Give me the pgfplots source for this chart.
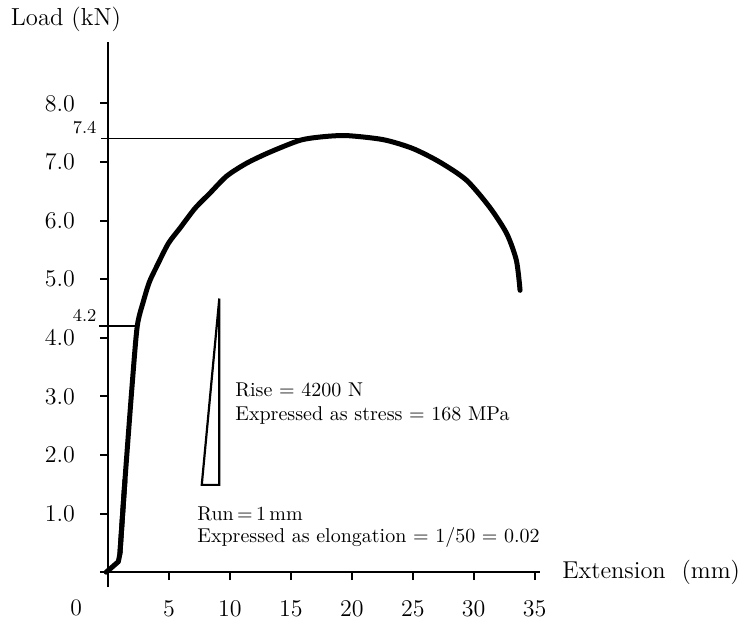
\documentclass[border=0pt]{standalone}
\usepackage{pgfplots}
\pgfplotsset{compat=1.18}
\begin{document}
\begin{tikzpicture}
\begin{axis}[
  x=6.095pt, y=29.3pt,
  axis lines=middle,
  axis line style={-, line width=1pt},
  xmin=-0.66, xmax=35.4, ymin=-0.26, ymax=9.04,
  xtick={5,10,...,35}, ytick={1,...,8},
  tick align=outside,
  major tick length=4pt,
  tick style={line width=1pt, black},
  yticklabel={\pgfmathprintnumber[fixed,fixed zerofill,precision=1]{\tick}},
  ticklabel style={font=\fontsize{11.8}{14}\selectfont},
  xticklabel style={anchor=north, yshift=-7pt},
  yticklabel style={anchor=east, xshift=-9pt},
  clip=false,
]
% curve: toe region (sharp corner)
\addplot[black, line width=2.5pt, line join=round, line cap=round] coordinates {
(-0.15,0.0) (0.3,0.08) (0.85,0.18) (0.98,0.32) (1.39,1.57)
};
% curve: elastic line and plastic arc (smooth)
\addplot[black, line width=2.5pt, line join=round, line cap=round, smooth, tension=0.45] coordinates {
(0.98,0.32) (1.39,1.57) (2.0,3.25) (2.4,4.2)
(2.9,4.62) (3.39,4.95) (4.0,5.22) (4.95,5.61) (5.9,5.87) (7.14,6.21) (8.37,6.47)
(9.74,6.76) (11.38,6.98) (13.3,7.17) (15.75,7.37) (17.6,7.43) (19.6,7.45)
(22.6,7.38) (25.0,7.23) (27.2,7.0) (29.4,6.69) (31.3,6.23) (32.7,5.78)
(33.5,5.32) (33.8,4.81)
};
% reference lines
\addplot[black, line width=0.85pt] coordinates {(-0.55,7.4) (16.0,7.4)};
\addplot[black, line width=0.85pt] coordinates {(-0.74,4.2) (2.42,4.2)};
% triangle
\addplot[black, line width=1.1pt, line join=miter] coordinates {(9.13,4.67) (9.13,1.49) (7.69,1.49) (9.13,4.67)};
% labels
\node[anchor=south east, inner sep=1pt, font=\fontsize{9}{10}\selectfont] at (axis cs:-0.75,7.43) {7.4};
\node[anchor=south east, inner sep=1pt, font=\fontsize{9}{10}\selectfont] at (axis cs:-0.75,4.23) {4.2};
\node[font=\fontsize{11.8}{14}\selectfont] at (axis cs:-2.62,-0.61) {0};
\node[font=\fontsize{12.3}{14}\selectfont] at (axis cs:-3.45,9.44) {Load (kN)};
\node[anchor=west, inner sep=0pt, font=\fontsize{12.2}{14}\selectfont] at (axis cs:37.24,0.0) {Extension\ \ (mm)};
\node[anchor=base west, inner sep=0pt, font=\fontsize{10}{12}\selectfont] at (axis cs:10.42,2.99) {Rise = 4200 N};
\node[anchor=base west, inner sep=0pt, font=\fontsize{10}{12}\selectfont] at (axis cs:10.42,2.59) {Expressed as stress = 168 MPa};
\node[anchor=base west, inner sep=0pt, font=\fontsize{10}{12}\selectfont] at (axis cs:7.3,0.89) {Run\,=\,1\,mm};
\node[anchor=base west, inner sep=0pt, font=\fontsize{10}{12}\selectfont] at (axis cs:7.3,0.51) {Expressed as elongation = 1/50 = 0.02};
\coordinate (bbl) at (axis cs:-8.86,-0.819);
\coordinate (btr) at (axis cs:52.99,9.761);
\end{axis}
\useasboundingbox (bbl) rectangle (btr);
\end{tikzpicture}
\end{document}
